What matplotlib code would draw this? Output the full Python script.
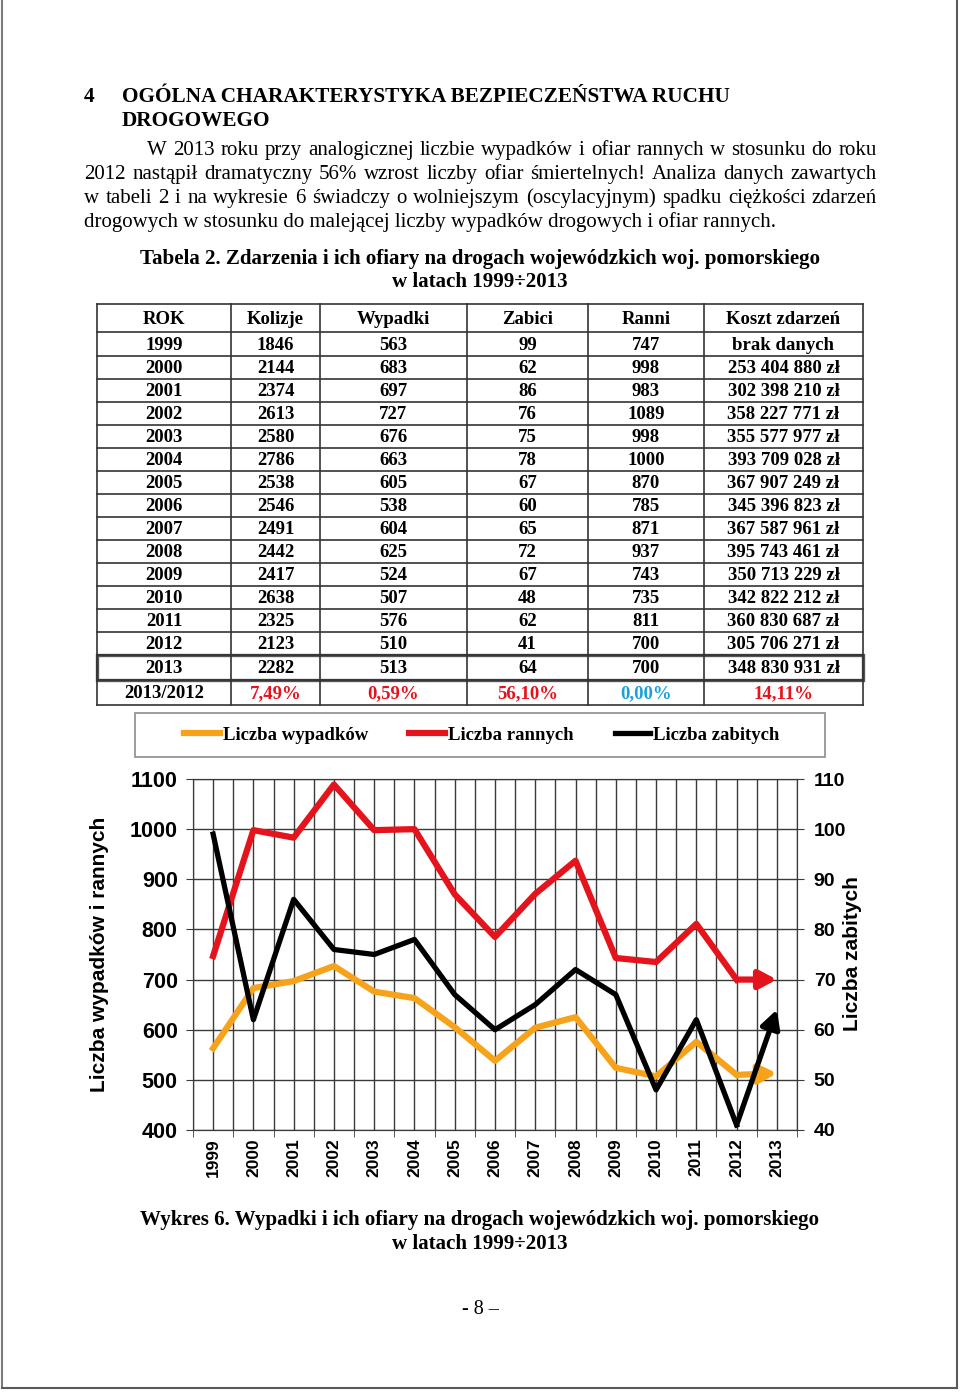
import numpy as np
import matplotlib.pyplot as plt
from matplotlib.patches import Rectangle

# === DANE (tabela 2 / wykres 6) ===
years = list(range(1999, 2014))
kolizje = [1846, 2144, 2374, 2613, 2580, 2786, 2538, 2546, 2491, 2442, 2417, 2638, 2325, 2123, 2282]
wypadki = [563, 683, 697, 727, 676, 663, 605, 538, 604, 625, 524, 507, 576, 510, 513]
zabici = [99, 62, 86, 76, 75, 78, 67, 60, 65, 72, 67, 48, 62, 41, 64]
ranni = [747, 998, 983, 1089, 998, 1000, 870, 785, 871, 937, 743, 735, 811, 700, 700]
koszt = ['brak danych', '253 404 880 zł', '302 398 210 zł', '358 227 771 zł', '355 577 977 zł',
         '393 709 028 zł', '367 907 249 zł', '345 396 823 zł', '367 587 961 zł', '395 743 461 zł',
         '350 713 229 zł', '342 822 212 zł', '360 830 687 zł', '305 706 271 zł', '348 830 931 zł']
naglowki = ['ROK', 'Kolizje', 'Wypadki', 'Zabici', 'Ranni', 'Koszt zdarzeń']
zmiana_label = '2013/2012'
zmiana = ['7,49%', '0,59%', '56,10%', '0,00%', '14,11%']

legend_labels = ['Liczba wypadków', 'Liczba rannych', 'Liczba zabitych']

ORANGE = '#F6A31B'
RED = '#E5131B'
BLUE = '#1BA1DA'
GRID = '#3a3a3a'
SERIF = 'Liberation Serif'
SANS = 'Liberation Sans'
zmiana_kolory = [RED, RED, RED, BLUE, RED]

W, H = 960, 1393
fig = plt.figure(figsize=(W / 100, H / 100), dpi=100)
bg = fig.add_axes([0, 0, 1, 1])
bg.set_xlim(0, W)
bg.set_ylim(H, 0)
bg.axis('off')

# ramka strony
bg.plot([2, 2], [0, 1388], color='#7a7a7a', lw=1.5)
bg.plot([957, 957], [0, 1388], color='#5a5a5a', lw=1.5)
bg.plot([2, 957], [1388, 1388], color='#5a5a5a', lw=1.5)

renderer = fig.canvas.get_renderer()


def txt(x, y, s, size, weight='normal', ha='left', color='black', family=SERIF, va='center'):
    return bg.text(x, y, s, fontsize=size, fontweight=weight, ha=ha, va=va,
                   color=color, family=family)


def justify(line, x0, x1, y, size):
    # y = linia bazowa
    words = line.split()
    arts = [txt(0, y, w, size, va='baseline') for w in words]
    widths = [a.get_window_extent(renderer).width for a in arts]
    gap = (x1 - x0 - sum(widths)) / (len(words) - 1)
    x = x0
    for a, w in zip(arts, widths):
        a.set_x(x)
        x += w + gap


# === NAGŁÓWEK + TEKST ===
HEAD = 15.3
txt(84, 97, '4', HEAD, 'bold')
txt(122, 97, 'OGÓLNA CHARAKTERYSTYKA BEZPIECZEŃSTWA RUCHU', HEAD, 'bold')
txt(122, 121, 'DROGOWEGO', HEAD, 'bold')

BODY = 15
justify('W 2013 roku przy analogicznej liczbie wypadków i ofiar rannych w stosunku do roku', 147, 877, 155, BODY)
justify('2012 nastąpił dramatyczny 56% wzrost liczby ofiar śmiertelnych! Analiza danych zawartych', 84, 877, 179, BODY)
justify('w tabeli 2 i na wykresie 6 świadczy o wolniejszym (oscylacyjnym) spadku ciężkości zdarzeń', 84, 877, 203, BODY)
txt(84, 227, 'drogowych w stosunku do malejącej liczby wypadków drogowych i ofiar rannych.', BODY, va='baseline')

CAP = 15.1
txt(480, 259, 'Tabela 2. Zdarzenia i ich ofiary na drogach wojewódzkich woj. pomorskiego', CAP, 'bold', 'center')
txt(480, 282, 'w latach 1999÷2013', CAP, 'bold', 'center')

# === TABELA ===
cols = [97, 231, 320, 467, 588, 704, 863]
rows = [304, 332, 356, 379, 402, 425, 448, 471, 494, 517, 540, 563, 586, 609, 632, 655, 680, 705]
for yy in rows:
    bg.plot([cols[0], cols[-1]], [yy, yy], color='#333333', lw=1.2)
for xx in cols:
    bg.plot([xx, xx], [rows[0], rows[-1]], color='#333333', lw=1.2)
bg.add_patch(Rectangle((cols[0], rows[15]), cols[-1] - cols[0], rows[16] - rows[15],
                       fill=False, edgecolor='#555555', lw=2.4))

centers = [(cols[i] + cols[i + 1]) / 2 for i in range(len(cols) - 1)]
rc = [(rows[i] + rows[i + 1]) / 2 + 1 for i in range(len(rows) - 1)]
TS = 13.5
for c, h in zip(centers, naglowki):
    txt(c, rc[0], h, TS, 'bold', 'center')
for i, yr in enumerate(years):
    vals = [yr, kolizje[i], wypadki[i], zabici[i], ranni[i], koszt[i]]
    for c, v in zip(centers, vals):
        txt(c, rc[i + 1], str(v), TS, 'bold', 'center')
txt(centers[0], rc[-1], zmiana_label, TS, 'bold', 'center')
for c, v, col in zip(centers[1:], zmiana, zmiana_kolory):
    txt(c, rc[-1], v, TS, 'bold', 'center', color=col)

# === WYKRES ===
ax = fig.add_axes([193 / W, 1 - 1130 / H, 604 / W, 351 / H])
x = np.arange(len(years))
ax.set_xlim(-0.5, len(years) - 0.5)
ax.set_ylim(400, 1100)
ax.set_yticks(range(400, 1101, 100))
ax.set_xticks(x)
ax.set_xticklabels(years, rotation=90, fontweight='bold', family=SANS, fontsize=12.5)
ax.set_xticks(np.arange(-0.5, len(years), 1), minor=True)
ax.tick_params(axis='x', which='major', length=0, pad=6)
ax.tick_params(axis='x', which='minor', length=5, color=GRID)
ax.tick_params(axis='y', length=5, color=GRID, pad=6)
for lab in ax.get_yticklabels():
    lab.set_fontweight('bold'); lab.set_family(SANS); lab.set_fontsize(15.5)
ax.grid(True, which='both', axis='x', color=GRID, lw=1)
ax.grid(True, which='major', axis='y', color=GRID, lw=1)
ax.set_axisbelow(True)
for sp in ax.spines.values():
    sp.set_color(GRID)

ARROW = '-|>,head_length=0.6,head_width=0.32'
l1, = ax.plot(x[:-1], wypadki[:-1], color=ORANGE, lw=4.5)
ax.annotate('', xy=(x[-1], wypadki[-1]), xytext=(x[-2], wypadki[-2]),
            arrowprops=dict(arrowstyle=ARROW, color=ORANGE,
                            lw=4.5, shrinkA=0, shrinkB=0, mutation_scale=17))
l2, = ax.plot(x[:-1], ranni[:-1], color=RED, lw=4.5)
ax.annotate('', xy=(x[-1], ranni[-1]), xytext=(x[-2], ranni[-2]),
            arrowprops=dict(arrowstyle=ARROW, color=RED,
                            lw=4.5, shrinkA=0, shrinkB=0, mutation_scale=17))

ax2 = ax.twinx()
ax2.set_ylim(40, 110)
ax2.set_yticks(range(40, 111, 10))
ax2.tick_params(axis='y', length=5, color=GRID, pad=7)
for lab in ax2.get_yticklabels():
    lab.set_fontweight('bold'); lab.set_family(SANS); lab.set_fontsize(14)
for sp in ax2.spines.values():
    sp.set_color(GRID)
l3, = ax2.plot(x[:-1], zabici[:-1], color='black', lw=3.8)
ax2.annotate('', xy=(x[-1], zabici[-1]), xytext=(x[-2], zabici[-2]),
             arrowprops=dict(arrowstyle=ARROW, color='black',
                             lw=3.8, shrinkA=0, shrinkB=0, mutation_scale=18))

bg.text(100, 954, 'Liczba wypadków i rannych', rotation=90, ha='center', va='center',
        fontsize=15, fontweight='bold', family=SANS)
bg.text(852, 954, 'Liczba zabitych', rotation=90, ha='center', va='center',
        fontsize=15, fontweight='bold', family=SANS)

# legenda
bg.add_patch(Rectangle((135, 713), 690, 44, fill=False, edgecolor='#8c8c8c', lw=1.2))
fig.legend([l1, l2, l3], legend_labels, loc='center', bbox_to_anchor=(482 / W, 1 - 735 / H),
           ncol=3, frameon=False, prop=dict(family=SERIF, weight='bold', size=13.5),
           handlelength=1.9, handletextpad=0.15, columnspacing=2.2)

# podpis
txt(480, 1220, 'Wykres 6. Wypadki i ich ofiary na drogach wojewódzkich woj. pomorskiego', CAP, 'bold', 'center')
txt(480, 1244, 'w latach 1999÷2013', CAP, 'bold', 'center')
txt(480, 1309, '- 8 –', 14.5, 'normal', 'center')

fig.savefig('out.png', dpi=100)
